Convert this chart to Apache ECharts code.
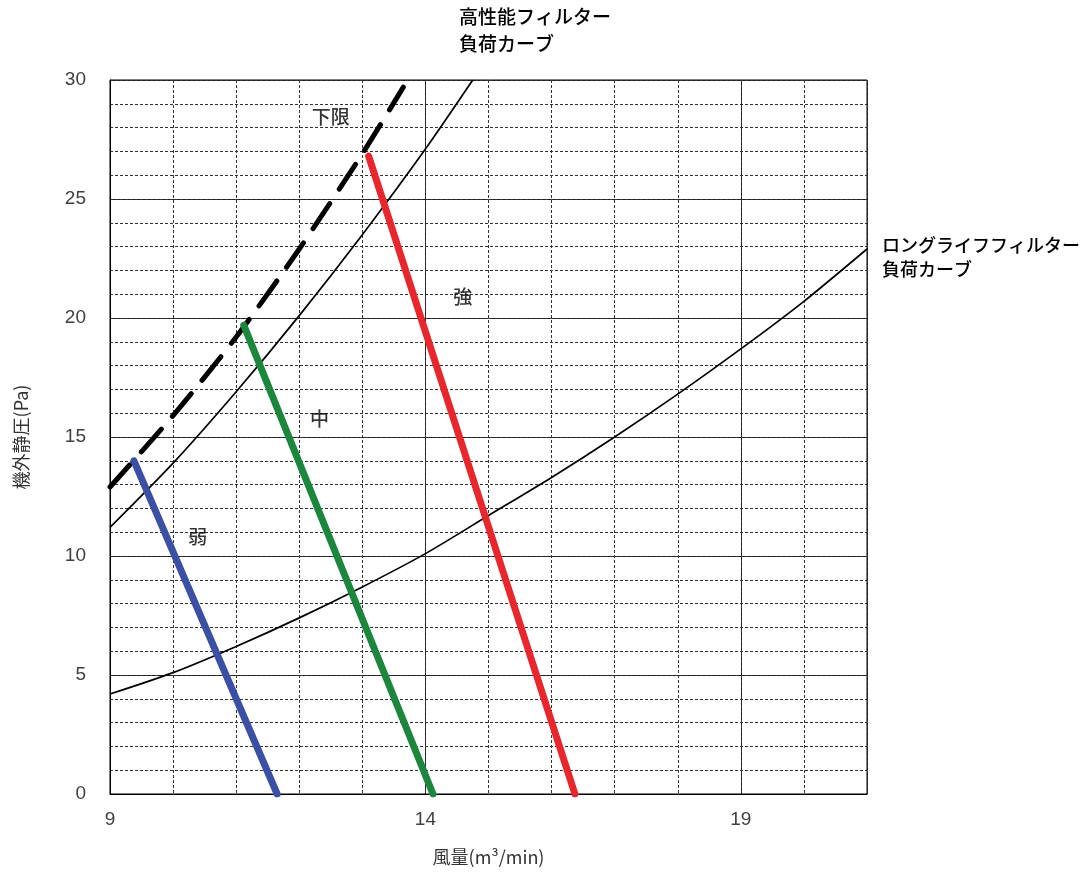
<!DOCTYPE html>
<html>
<head>
<meta charset="utf-8">
<script src="https://cdn.jsdelivr.net/npm/echarts@6/dist/echarts.min.js"></script>
<style>
  html, body { margin: 0; padding: 0; background: #fff; }
  #main { width: 1090px; height: 877px; }
</style>
</head>
<body>
<div id="main"></div>
<script>
// 風量 (x) / 機外静圧 (y)
const weakLine = [[9.38, 14.0], [11.65, 0]]
const midLine = [[11.12, 19.7], [14.12, 0]]
const strongLine = [[13.1, 26.8], [16.37, 0]]
// 下限 (破線)
const lowerLimit = [[9, 12.9], [10, 15.9], [11, 19.2], [12, 22.9], [13, 26.9], [13.65, 29.7]]
// 高性能フィルター負荷カーブ
const hepaLoad = [[9, 11.2], [10, 13.9], [11, 16.9], [12, 20.1], [13, 23.5], [14, 27.1], [14.75, 30]]
// ロングライフフィルター負荷カーブ
const longLifeLoad = [[9, 4.2], [10, 5.1], [11, 6.2], [12, 7.4], [13, 8.7], [14, 10.1], [15, 11.7],
  [16, 13.3], [17, 15.0], [18, 16.8], [19, 18.7], [20, 20.7], [21, 22.9]]

// 図中ラベル
const noteText = ['下限', '強', '中', '弱']
const noteX = [12.5, 14.59, 12.32, 10.39]
const noteY = [28.45, 20.9, 15.75, 10.8]

const xTicks = [9, 14, 19]

const numFont = '"Liberation Sans", Arial, "Noto Sans CJK JP", sans-serif'
const jpFont = '"Noto Sans CJK JP", "Liberation Sans", sans-serif'

let myChart = echarts.init(document.getElementById('main'))

const thick = (name, data, color) => ({
  name: name,
  type: 'line',
  data: data,
  symbol: 'none',
  lineStyle: { color: color, width: 7, cap: 'round' },
  z: 5
})

const thin = (name, data) => ({
  name: name,
  type: 'line',
  data: data,
  smooth: 0.25,
  symbol: 'none',
  lineStyle: { color: '#000', width: 1.7 },
  z: 3
})

myChart.setOption({
  animation: false,
  grid: {
    left: 110, right: 223, top: 80, bottom: 83,
    show: true, borderColor: '#000', borderWidth: 1
  },
  xAxis: [
    {
      type: 'value', min: 9, max: 21, interval: 5,
      name: '風量(m³/min)', nameLocation: 'middle', nameGap: 54,
      nameTextStyle: { color: '#333', fontSize: 18, fontFamily: jpFont },
      axisLine: { show: true, lineStyle: { color: '#000', width: 1 } },
      axisTick: { show: false },
      axisLabel: {
        margin: 16, color: '#404040', fontSize: 19, fontFamily: numFont,
        formatter: v => (xTicks.indexOf(v) >= 0 ? v : '')
      },
      splitLine: { show: true, lineStyle: { color: '#1a1a1a', width: 1, type: 'solid' } }
    },
    {
      // 1単位ごとの補助線
      type: 'value', min: 9, max: 21, interval: 1, position: 'bottom',
      axisLine: { show: false }, axisTick: { show: false }, axisLabel: { show: false },
      splitLine: { show: true, lineStyle: { color: '#333', width: 1, type: [3, 2] } }
    }
  ],
  yAxis: [
    {
      type: 'value', min: 0, max: 30, interval: 5,
      name: '機外静圧(Pa)', nameLocation: 'middle', nameGap: 80, nameRotate: 90,
      nameTextStyle: { color: '#333', fontSize: 18, fontFamily: jpFont },
      axisLine: { show: true, lineStyle: { color: '#000', width: 1 } },
      axisTick: { show: false },
      axisLabel: { margin: 24, color: '#404040', fontSize: 19, fontFamily: numFont },
      splitLine: { show: true, lineStyle: { color: '#1a1a1a', width: 1, type: 'solid' } }
    },
    {
      type: 'value', min: 0, max: 30, interval: 1, position: 'left',
      axisLine: { show: false }, axisTick: { show: false }, axisLabel: { show: false },
      splitLine: { show: true, lineStyle: { color: '#333', width: 1, type: [3, 2] } }
    }
  ],
  series: [
    thin('高性能フィルター負荷カーブ', hepaLoad),
    thin('ロングライフフィルター負荷カーブ', longLifeLoad),
    {
      name: '下限', type: 'line', data: lowerLimit, smooth: 0.25, symbol: 'none',
      lineStyle: { color: '#000', width: 5, type: [30, 17], cap: 'round' }, z: 4
    },
    thick('弱', weakLine, '#3b4fa5'),
    thick('中', midLine, '#1b873d'),
    thick('強', strongLine, '#e8262b'),
    {
      type: 'scatter', symbolSize: 0, silent: true, z: 6,
      data: noteText.map((t, i) => [noteX[i], noteY[i], t]),
      label: {
        show: true, position: 'inside', formatter: p => p.data[2],
        color: '#000', fontSize: 19, fontWeight: 500, fontFamily: jpFont
      }
    }
  ],
  graphic: [
    {
      type: 'text', left: 459, top: 3,
      style: { text: '高性能フィルター\n負荷カーブ', fill: '#000', fontSize: 19, fontWeight: 500, lineHeight: 27, fontFamily: jpFont }
    },
    {
      type: 'text', left: 882, top: 233,
      style: { text: 'ロングライフフィルター\n負荷カーブ', fill: '#000', fontSize: 18, fontWeight: 500, lineHeight: 24, fontFamily: jpFont }
    }
  ]
})
</script>
</body>
</html>
